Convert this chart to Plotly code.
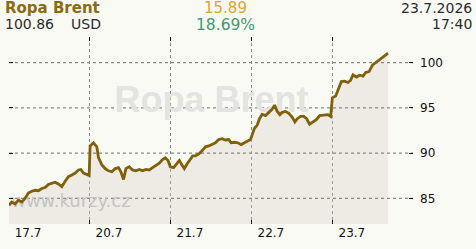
import plotly.graph_objects as go

# trading-day offsets (0 = 17.7 session start) and prices
t = [0.000, 0.033, 0.074, 0.115, 0.157, 0.198, 0.239, 0.281, 0.322, 0.363,
     0.405, 0.446, 0.486, 0.528, 0.569, 0.610, 0.652, 0.693, 0.734, 0.776,
     0.817, 0.858, 0.887, 0.920, 0.962, 0.990, 1.002, 1.043, 1.085, 1.105,
     1.147, 1.188, 1.229, 1.271, 1.312, 1.353, 1.382, 1.415, 1.444, 1.485,
     1.526, 1.568, 1.609, 1.650, 1.692, 1.733, 1.773, 1.816, 1.856, 1.897,
     1.931, 1.964, 1.993, 2.033, 2.075, 2.104, 2.137, 2.166, 2.203, 2.240,
     2.269, 2.302, 2.343, 2.385, 2.426, 2.467, 2.509, 2.550, 2.590, 2.632,
     2.673, 2.714, 2.744, 2.785, 2.825, 2.868, 2.908, 2.949, 2.983, 3.004,
     3.032, 3.066, 3.094, 3.127, 3.168, 3.209, 3.251, 3.280, 3.313, 3.345,
     3.375, 3.416, 3.457, 3.499, 3.531, 3.561, 3.601, 3.642, 3.676, 3.713,
     3.754, 3.796, 3.837, 3.890, 3.939, 3.973, 3.994, 4.035, 4.075, 4.105,
     4.146, 4.187, 4.220, 4.249, 4.291, 4.332, 4.373, 4.406, 4.447, 4.489,
     4.530, 4.570, 4.613, 4.653, 4.682]
price = [84.25, 84.6, 84.4, 84.8, 84.6, 85.0, 85.6, 85.8, 85.9, 85.85,
         86.1, 86.2, 86.55, 86.7, 86.8, 86.6, 86.3, 86.9, 87.4, 87.6,
         87.8, 88.15, 88.2, 87.8, 87.6, 87.55, 90.8, 91.15, 90.7, 89.5,
         88.7, 88.3, 88.05, 87.95, 88.3, 88.4, 87.95, 87.1, 88.3, 88.5,
         88.15, 88.05, 88.2, 88.05, 88.2, 88.15, 88.4, 88.7, 88.9, 89.3,
         89.5, 89.2, 88.5, 88.4, 88.85, 89.2, 88.7, 88.3, 88.85, 89.4,
         89.7, 89.7, 89.9, 90.25, 90.7, 90.8, 90.95, 91.15, 91.5, 91.6,
         91.45, 91.5, 91.15, 91.2, 91.15, 90.95, 91.15, 91.3, 91.5, 92.05,
         92.75, 93.1, 93.8, 94.3, 94.15, 94.5, 94.85, 95.3, 94.6, 94.25,
         94.5, 94.6, 94.4, 93.95, 93.45, 93.8, 94.05, 94.05, 93.8, 93.2,
         93.45, 93.7, 94.15, 94.2, 94.25, 94.05, 96.1, 96.3, 97.25, 97.9,
         97.95, 97.8, 98.05, 98.65, 98.4, 98.6, 98.5, 98.9, 99.0, 99.7,
         100.0, 100.3, 100.55, 100.9, 101.05]

tick_pos = [0, 1, 2, 3, 4]
tick_labels = ["17.7", "20.7", "21.7", "22.7", "23.7"]
y_ticks = [85, 90, 95, 100]

title = "Ropa Brent"
last_price = "100.86"
currency = "USD"
change_abs = "15.89"
change_pct = "18.69%"
date_txt = "23.7.2026"
time_txt = "17:40"

W, H = 476, 249
L, R, T, B = 9, 413, 37, 231
X_RANGE = [0, 4.99]
Y_RANGE = [82.181, 102.819]

LINE = "#80600a"
FILL = "rgba(213,203,192,0.3)"   # blends to ~#efece5 over the background
BG = "#fafaf5"
GRID = "#888888"
FONT = "DejaVu Sans, Verdana, sans-serif"

fig = go.Figure()
# area fill (translucent so the grid shows through)
fig.add_trace(go.Scatter(x=t, y=price, mode="lines", fill="tozeroy",
                         fillcolor=FILL, line=dict(width=0, color="rgba(0,0,0,0)"),
                         hoverinfo="skip", showlegend=False))
# horizontal dotted grid at each y tick, under the price line
for v in y_ticks:
    fig.add_trace(go.Scatter(x=X_RANGE, y=[v, v], mode="lines",
                             line=dict(width=1.3, color=GRID, dash="dot"),
                             hoverinfo="skip", showlegend=False))
# watermarks (under the price line)
fig.add_trace(go.Scatter(x=[2.5], y=[95.55], mode="text", text=[f"<b>{title}</b>"],
                         textfont=dict(family="Liberation Sans, Arial, sans-serif",
                                       size=36, color="#e3e3e1"),
                         textposition="middle center", hoverinfo="skip",
                         showlegend=False))
fig.add_trace(go.Scatter(x=[0.765], y=[84.55], mode="text", text=["www.kurzy.cz"],
                         textfont=dict(family=FONT, size=18, color="#c4c4c2"),
                         textposition="middle center", hoverinfo="skip",
                         showlegend=False))
# price line
fig.add_trace(go.Scatter(x=t, y=price, mode="lines",
                         line=dict(width=2.8, color=LINE),
                         hoverinfo="skip", showlegend=False))


def px(x):
    return (x - L) / (R - L)


def py(y):
    return (B - y) / (B - T)


def note(text, x, y, anchor, size, color, bold=False):
    fig.add_annotation(text=f"<b>{text}</b>" if bold else text,
                       xref="paper", yref="paper", x=px(x), y=py(y),
                       xanchor=anchor, yanchor="middle", showarrow=False,
                       borderpad=0,
                       font=dict(family=FONT, size=size, color=color))


note(title, 4, 7, "left", 15, "#8b6a12", bold=True)
note(last_price, 4, 24, "left", 14, "#2b2b2b")
note(currency, 70, 24, "left", 14, "#2b2b2b")
note(change_abs, 225, 6.5, "center", 15, "#dba62a")
note(change_pct, 225, 24.5, "center", 15.5, "#3d9a6c")
note(date_txt, 473, 7, "right", 14, "#2b2b2b")
note(time_txt, 473, 24, "right", 14, "#2b2b2b")

axis_common = dict(ticks="inside", ticklen=4, tickcolor="#000", tickwidth=1,
                   mirror="ticks", showline=False, zeroline=False,
                   tickfont=dict(family=FONT, size=12, color="#111"))
fig.update_xaxes(range=X_RANGE, tickvals=tick_pos, ticktext=tick_labels,
                 ticklabelshift=19, showgrid=True, gridcolor=GRID,
                 gridwidth=1, griddash="dot", **axis_common)
fig.update_yaxes(range=Y_RANGE, tickvals=y_ticks, side="right",
                 ticklabelstandoff=6, showgrid=False, **axis_common)

fig.update_layout(width=W, height=H, autosize=False,
                  margin=dict(l=L, r=W - R, t=T, b=H - B),
                  paper_bgcolor=BG, plot_bgcolor=BG, showlegend=False)

fig.write_html("out.html", config={"displayModeBar": False})
